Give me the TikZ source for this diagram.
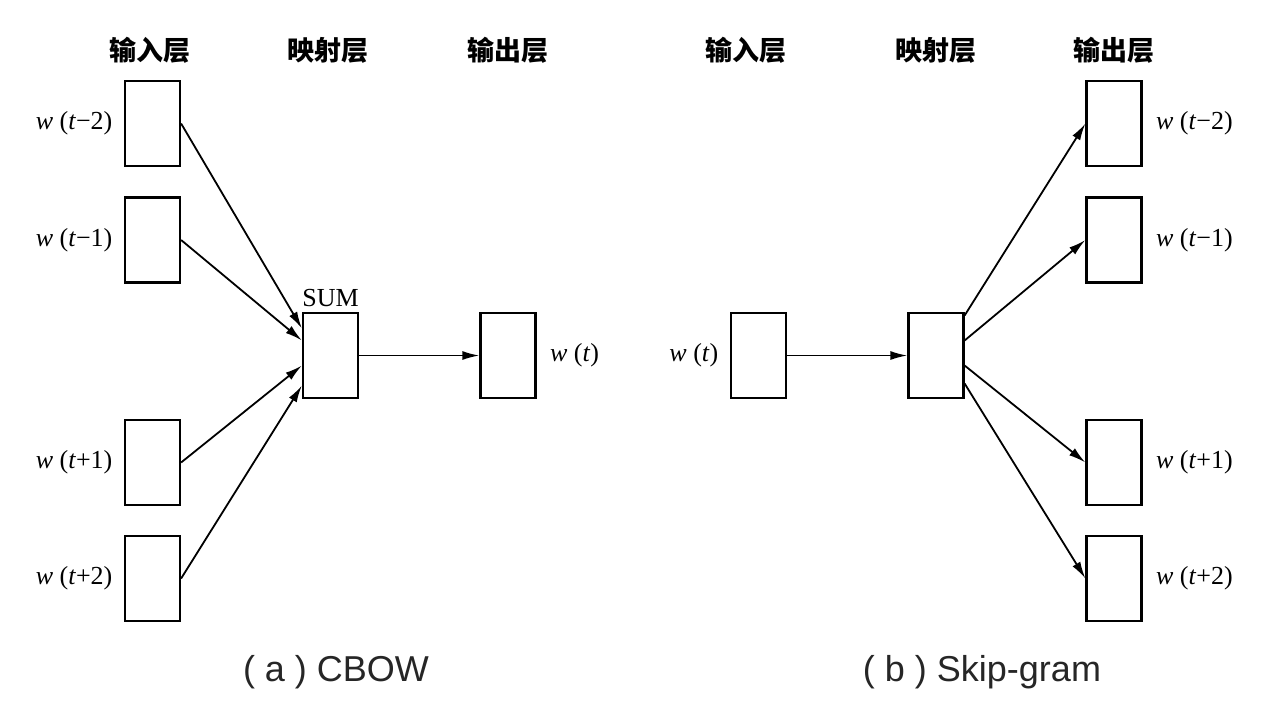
\documentclass[tikz,border=0pt]{standalone}
\usepackage{fontspec}
\setmainfont{Liberation Serif}
\newfontfamily\cjk{Noto Sans CJK SC}
\newfontfamily\capfont{Liberation Sans}
\usetikzlibrary{positioning,arrows.meta}

\newcommand{\wlab}[1]{\textit{w}\ (\textit{t}#1)}

\begin{document}
\begin{tikzpicture}[x=1pt,y=-1pt]
    \tikzstyle{B}=[rectangle,draw,line width=2.2pt,minimum width=55pt,minimum height=85pt,inner sep=0pt]
    \tikzstyle{H}=[font=\cjk\bfseries\fontsize{27}{30}\selectfont]
    \tikzstyle{W}=[font=\fontsize{26}{30}\selectfont]
    \tikzstyle{C}=[font=\capfont\fontsize{36}{40}\selectfont,text=black!85]
    \tikzstyle{A}=[line width=1.8pt,-{Latex[length=17pt,width=9pt]}]

    \useasboundingbox (0,0) rectangle (1265,713);

    % Headers
    \node [H] (h1) at (150, 50) {输入层};
    \node [H] (h2) at (328, 50) {映射层};
    \node [H] (h3) at (508, 50) {输出层};
    \node [H] (h4) at (746, 50) {输入层};
    \node [H] (h5) at (936, 50) {映射层};
    \node [H] (h6) at (1114, 50) {输出层};

    % CBOW
    \node [B] (ca) at (152.5, 123.5) {};
    \node [B] (cb) at (152.5, 240) {};
    \node [B] (cc) at (152.5, 462.5) {};
    \node [B] (cd) at (152.5, 578.5) {};
    \node [B] (sum) at (330.5, 355.5) {};
    \node [B] (cout) at (508, 355.5) {};

    \node [W, left=8pt of ca] (la) {\wlab{−2}};
    \node [W, left=8pt of cb] (lb) {\wlab{−1}};
    \node [W, left=8pt of cc] (lc) {\wlab{+1}};
    \node [W, left=8pt of cd] (ld) {\wlab{+2}};
    \node [W, above=2pt of sum] (slab) {SUM};
    \node [W, right=10pt of cout] (lo) {\wlab{}};

    \draw [A] (ca.east) -- ([yshift=27pt]sum.west);
    \draw [A] (cb.east) -- ([yshift=15pt]sum.west);
    \draw [A] (cc.east) -- ([yshift=-10pt]sum.west);
    \draw [A] (cd.east) -- ([yshift=-30pt]sum.west);
    \draw [A] (sum.east) -- (cout.west);

    % Skip-gram
    \node [B] (sin) at (758.5, 355.5) {};
    \node [B] (proj) at (936, 355.5) {};
    \node [B] (sa) at (1114, 123.5) {};
    \node [B] (sb) at (1114, 240) {};
    \node [B] (sc) at (1114, 462.5) {};
    \node [B] (sd) at (1114, 578.5) {};

    \node [W, left=8pt of sin] (li) {\wlab{}};
    \node [W, right=10pt of sa] (ra) {\wlab{−2}};
    \node [W, right=10pt of sb] (rb) {\wlab{−1}};
    \node [W, right=10pt of sc] (rc) {\wlab{+1}};
    \node [W, right=10pt of sd] (rd) {\wlab{+2}};

    \draw [A] (sin.east) -- (proj.west);
    \draw [A] ([yshift=40pt]proj.east) -- (sa.west);
    \draw [A] ([yshift=15pt]proj.east) -- (sb.west);
    \draw [A] ([yshift=-10pt]proj.east) -- (sc.west);
    \draw [A] ([yshift=-28pt]proj.east) -- (sd.west);

    % Captions
    \node [C] (capa) at (336, 672) {( a ) CBOW};
    \node [C] (capb) at (982, 672) {( b ) Skip-gram};
\end{tikzpicture}
\end{document}
